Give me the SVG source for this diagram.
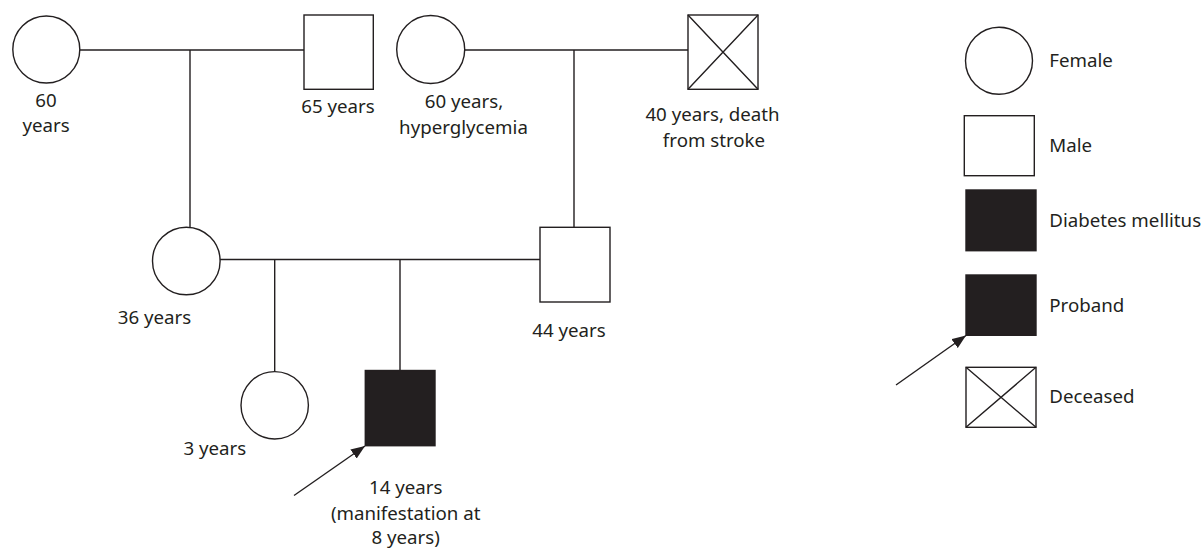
<svg xmlns="http://www.w3.org/2000/svg" width="1204" height="548" viewBox="0 0 1204 548">
<defs>
<style>
.s{fill:#fff;stroke:#231f20;stroke-width:1.4}
.f{fill:#231f20;stroke:#231f20;stroke-width:1.4}
.l{fill:none;stroke:#231f20;stroke-width:1.4}
text{font-family:"Noto Sans","Liberation Sans",sans-serif;font-size:18.7px;fill:#231f20}
.c{text-anchor:middle}
</style>
<marker id="ah" viewBox="0 0 14 11" refX="14" refY="5.5" markerWidth="14" markerHeight="11" markerUnits="userSpaceOnUse" orient="auto">
<path d="M0,0 L14,5.5 L0,11 z" fill="#231f20"/>
</marker>
</defs>
<g id="connectors">
<path class="l" d="M80,50 H304 M190,50 V227"/>
<path class="l" d="M465,50 H688 M574,50 V227"/>
<path class="l" d="M220,259.5 H540 M274.7,259.5 V371.7 M400,259.5 V370.5"/>
<path class="l" d="M294,495.5 L365,446" marker-end="url(#ah)"/>
<path class="l" d="M896,385 L966,335.5" marker-end="url(#ah)"/>
</g>
<g id="gm1">
<circle class="s" cx="46.3" cy="49.5" r="33.5"/>
<text class="c" x="46" y="106.5">60</text>
<text class="c" x="46" y="131.5">years</text>
</g>
<g id="gf1">
<rect class="s" x="304" y="15" width="69.3" height="74.3"/>
<text class="c" x="338" y="113">65 years</text>
</g>
<g id="gm2">
<circle class="s" cx="430.7" cy="49.5" r="34"/>
<text class="c" x="464" y="108.3">60 years,</text>
<text class="c" x="463.5" y="134.3">hyperglycemia</text>
</g>
<g id="gf2">
<rect class="s" x="688" y="15" width="70" height="74.3"/>
<path class="l" d="M688,15 L758,89.3 M758,15 L688,89.3"/>
<text class="c" x="712.5" y="121">40 years, death</text>
<text class="c" x="714" y="146.7">from stroke</text>
</g>
<g id="mother">
<circle class="s" cx="186.3" cy="261" r="33.8"/>
<text class="c" x="154.5" y="324.3">36 years</text>
</g>
<g id="father">
<rect class="s" x="540" y="227.3" width="70" height="74.7"/>
<text class="c" x="569" y="336.7">44 years</text>
</g>
<g id="sister">
<circle class="s" cx="274.7" cy="405.3" r="33.7"/>
<text class="c" x="214.8" y="454.5">3 years</text>
</g>
<g id="proband">
<rect class="f" x="365.3" y="370.5" width="69.7" height="75.2"/>
<text class="c" x="405.8" y="494">14 years</text>
<text class="c" x="405.7" y="519.5">(manifestation at</text>
<text class="c" x="405.7" y="544">8 years)</text>
</g>
<g id="legend-female">
<circle class="s" cx="999" cy="60.7" r="33.5"/>
<text x="1049.3" y="66.7">Female</text>
</g>
<g id="legend-male">
<rect class="s" x="964.3" y="115.7" width="70" height="60"/>
<text x="1049.3" y="151.7">Male</text>
</g>
<g id="legend-dm">
<rect class="f" x="966" y="190" width="70" height="60.7"/>
<text x="1049.3" y="227.3">Diabetes mellitus</text>
</g>
<g id="legend-proband">
<rect class="f" x="966" y="275" width="70" height="60.3"/>
<text x="1049.3" y="311.7">Proband</text>
</g>
<g id="legend-deceased">
<rect class="s" x="966" y="367.3" width="70" height="60"/>
<path class="l" d="M966,367.3 L1036,427.3 M1036,367.3 L966,427.3"/>
<text x="1049.3" y="403.3">Deceased</text>
</g>
</svg>
